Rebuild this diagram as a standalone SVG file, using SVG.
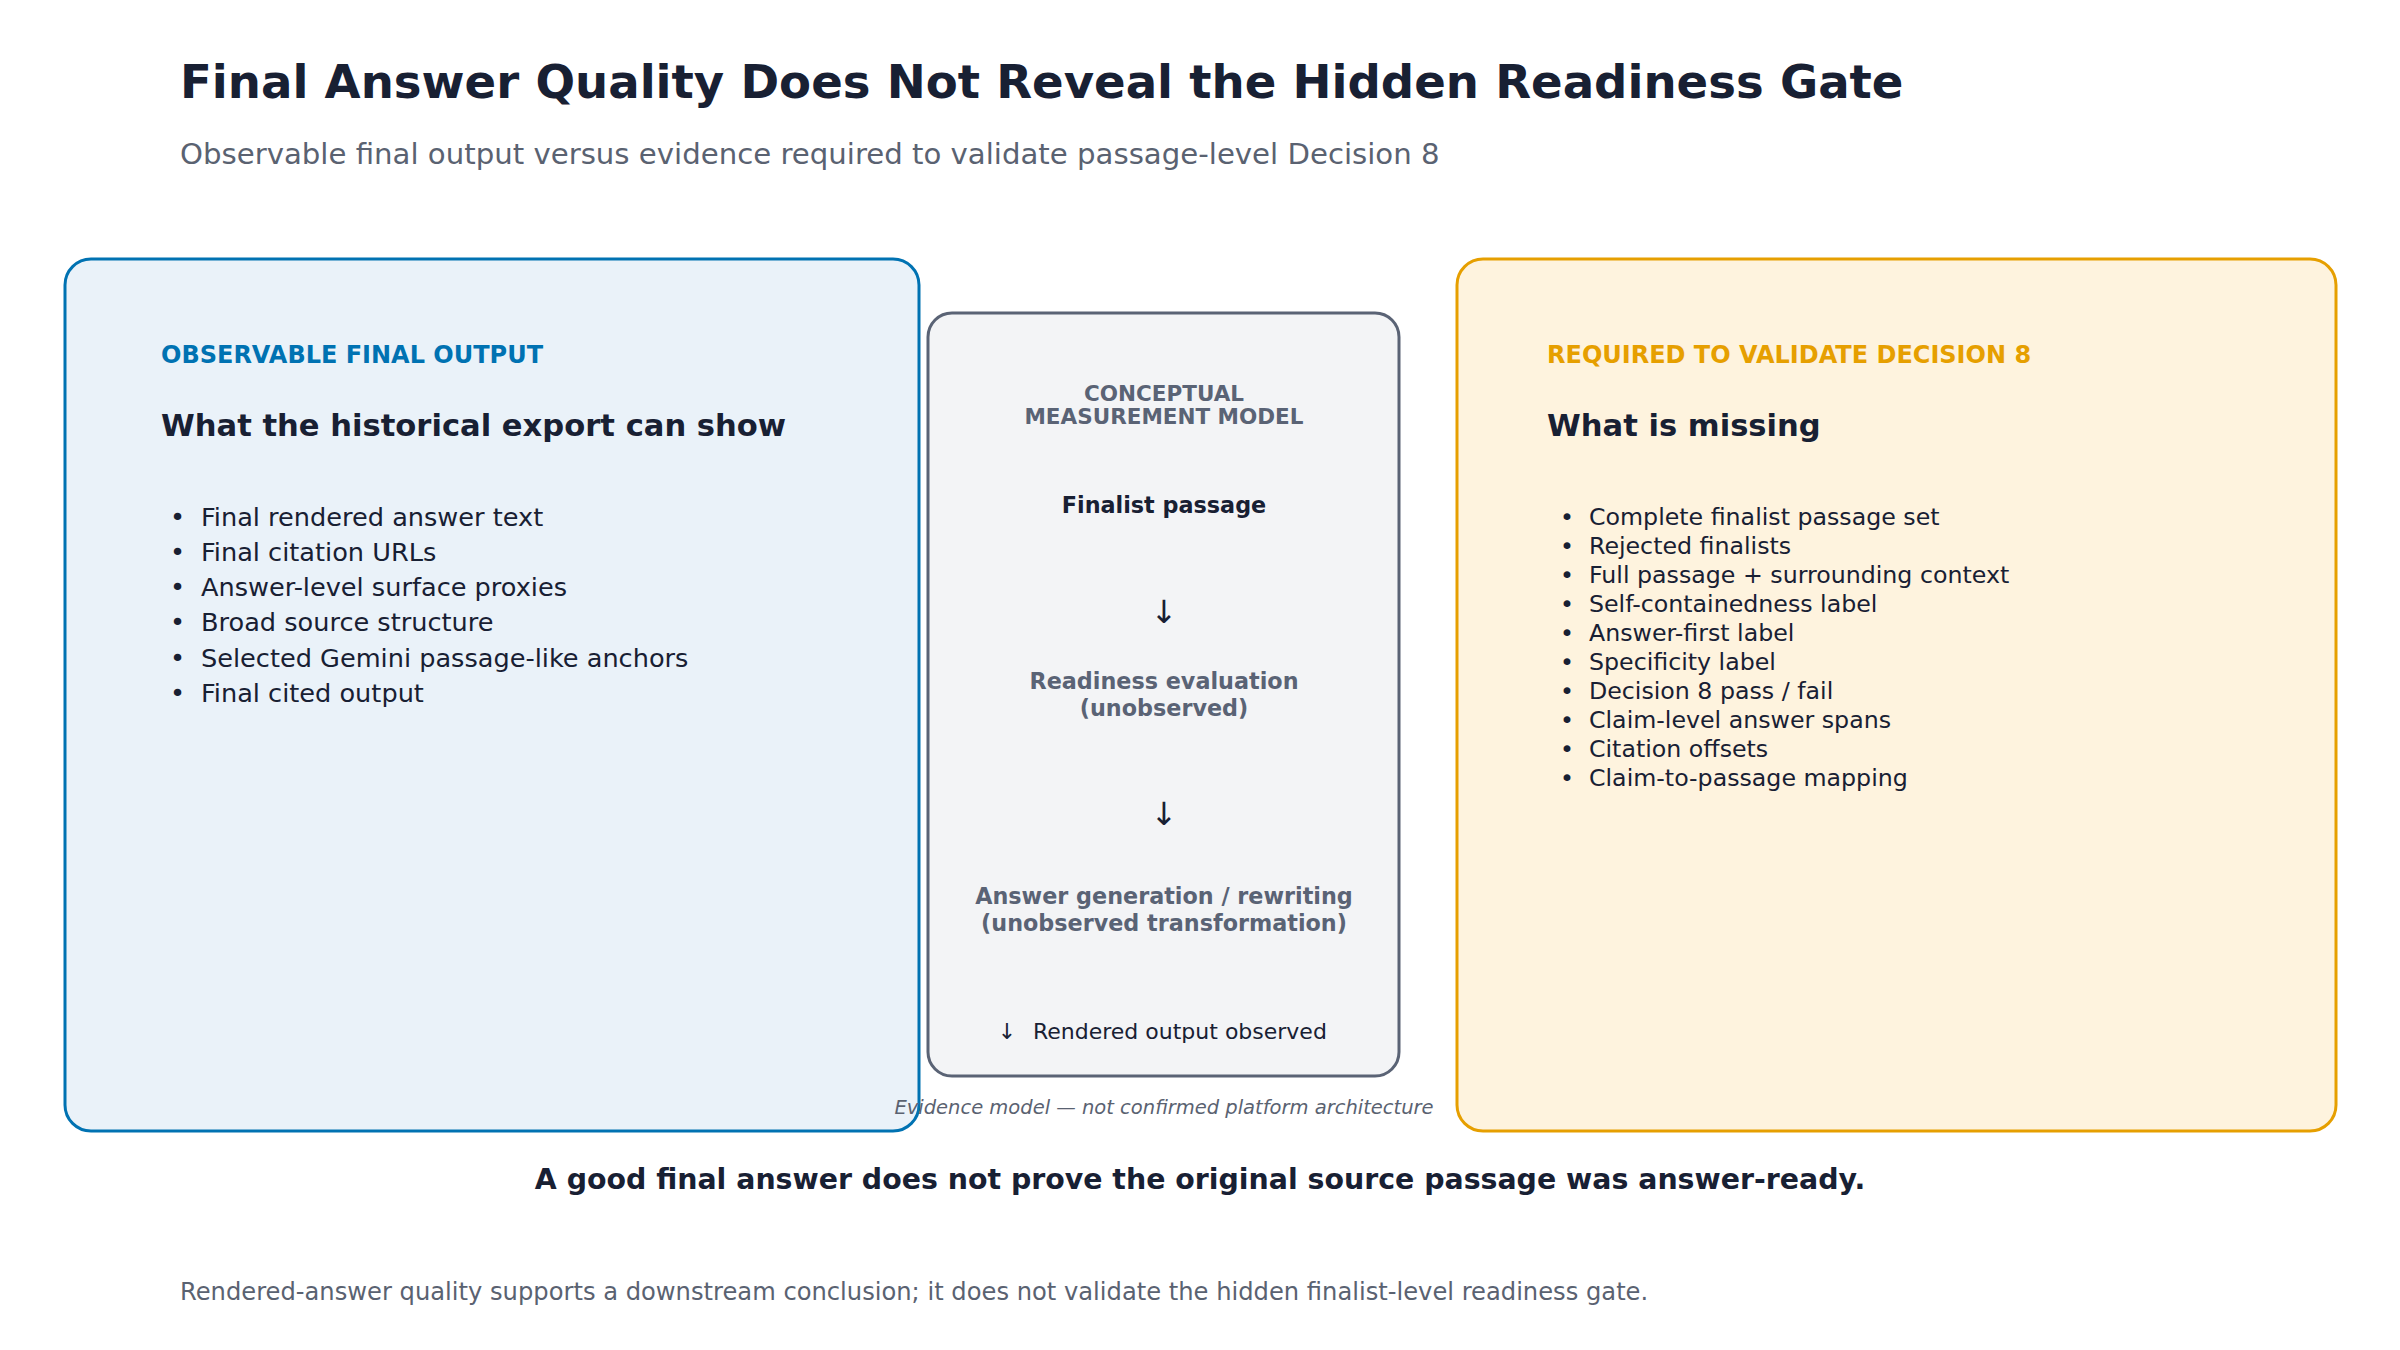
<svg xmlns="http://www.w3.org/2000/svg" width="2400" height="1350" viewBox="0 0 2400 1350">
<style>
text{font-family:"DejaVu Sans",sans-serif}
.title{font-size:46.6px;font-weight:bold;fill:#182033}
.sub{font-size:29.2px;fill:#5a6271}
.kicker{font-size:24px;font-weight:bold}
.head{font-size:30.6px;font-weight:bold;fill:#182033}
.li{font-size:25.6px;fill:#182033}
.ri{font-size:23.7px;fill:#182033}
.mh{font-size:21.5px;font-weight:bold;fill:#5a6375;text-anchor:middle}
.mb{font-size:22.3px;font-weight:bold;fill:#5a6375;text-anchor:middle}
.md{font-size:22.3px;font-weight:bold;fill:#182033;text-anchor:middle}
.arr{font-size:32px;fill:#182033;text-anchor:middle}
.mo{font-size:22px;fill:#182033}
.note{font-size:19.5px;font-style:italic;fill:#5a6271;text-anchor:middle}
.take{font-size:28.4px;font-weight:bold;fill:#182033;text-anchor:middle}
.foot{font-size:24.2px;fill:#5a6271}
.box{stroke-width:3}
</style>
<rect width="2400" height="1350" fill="#ffffff"/>
<text class="title" x="180" y="98">Final Answer Quality Does Not Reveal the Hidden Readiness Gate</text>
<text class="sub" x="180" y="164">Observable final output versus evidence required to validate passage-level Decision 8</text>
<g id="observable">
<rect class="box" x="65" y="259" width="854" height="872" rx="26" fill="#eaf2f9" stroke="#0072b2"/>
<text class="kicker" x="161" y="363" fill="#0072b2">OBSERVABLE FINAL OUTPUT</text>
<text class="head" x="161" y="436">What the historical export can show</text>
<g class="li">
<text x="170" y="526">•</text><text x="201" y="526">Final rendered answer text</text>
<text x="170" y="561">•</text><text x="201" y="561">Final citation URLs</text>
<text x="170" y="596">•</text><text x="201" y="596">Answer-level surface proxies</text>
<text x="170" y="631">•</text><text x="201" y="631">Broad source structure</text>
<text x="170" y="667">•</text><text x="201" y="667">Selected Gemini passage-like anchors</text>
<text x="170" y="702">•</text><text x="201" y="702">Final cited output</text>
</g>
</g>
<g id="model">
<rect class="box" x="928" y="313" width="471" height="763" rx="24" fill="#f3f4f6" stroke="#5a6375"/>
<text class="mh" x="1164" y="401">CONCEPTUAL</text>
<text class="mh" x="1164" y="424">MEASUREMENT MODEL</text>
<text class="md" x="1164" y="513">Finalist passage</text>
<text class="arr" x="1164" y="623">↓</text>
<text class="mb" x="1164" y="689">Readiness evaluation</text>
<text class="mb" x="1164" y="716">(unobserved)</text>
<text class="arr" x="1164" y="825">↓</text>
<text class="mb" x="1164" y="904">Answer generation / rewriting</text>
<text class="mb" x="1164" y="931">(unobserved transformation)</text>
<text class="mo" x="1007" y="1039" text-anchor="middle">↓</text>
<text class="mo" x="1033" y="1039">Rendered output observed</text>
</g>
<text class="note" x="1164" y="1114">Evidence model — not confirmed platform architecture</text>
<g id="required">
<rect class="box" x="1457" y="259" width="879" height="872" rx="26" fill="#fef3de" stroke="#e69f00"/>
<text class="kicker" x="1547" y="363" fill="#e69f00">REQUIRED TO VALIDATE DECISION 8</text>
<text class="head" x="1547" y="436">What is missing</text>
<g class="ri">
<text x="1560" y="525">•</text><text x="1589" y="525">Complete finalist passage set</text>
<text x="1560" y="554">•</text><text x="1589" y="554">Rejected finalists</text>
<text x="1560" y="583">•</text><text x="1589" y="583">Full passage + surrounding context</text>
<text x="1560" y="612">•</text><text x="1589" y="612">Self-containedness label</text>
<text x="1560" y="641">•</text><text x="1589" y="641">Answer-first label</text>
<text x="1560" y="670">•</text><text x="1589" y="670">Specificity label</text>
<text x="1560" y="699">•</text><text x="1589" y="699">Decision 8 pass / fail</text>
<text x="1560" y="728">•</text><text x="1589" y="728">Claim-level answer spans</text>
<text x="1560" y="757">•</text><text x="1589" y="757">Citation offsets</text>
<text x="1560" y="786">•</text><text x="1589" y="786">Claim-to-passage mapping</text>
</g>
</g>
<g id="connectors"></g>
<text class="take" x="1200" y="1189">A good final answer does not prove the original source passage was answer-ready.</text>
<text class="foot" x="180" y="1300">Rendered-answer quality supports a downstream conclusion; it does not validate the hidden finalist-level readiness gate.</text>
</svg>
